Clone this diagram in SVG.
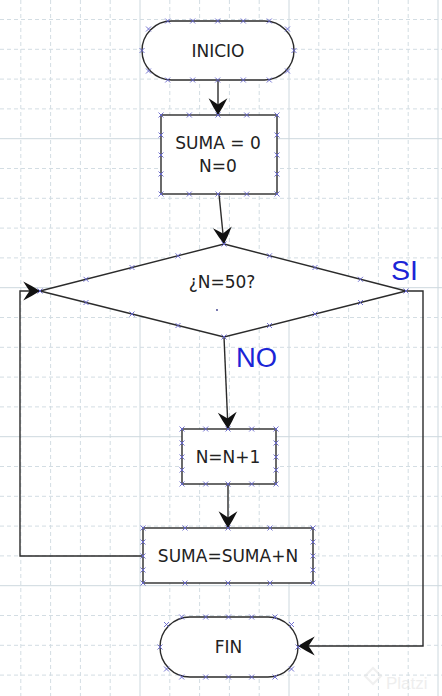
<svg xmlns="http://www.w3.org/2000/svg" width="442" height="696" viewBox="0 0 442 696">
<style>
.gmin{stroke:#d3dde3;stroke-width:1;stroke-dasharray:4 3;fill:none}
.gmaj{stroke:#cdd8de;stroke-width:1;fill:none}
.shape{fill:#ffffff;stroke:#2b2b2b;stroke-width:1.4}
.lbl{font-family:"DejaVu Sans",Tahoma,sans-serif;font-size:17px;fill:#222;text-anchor:middle;dominant-baseline:central}
.conn{stroke:#2b2b2b;stroke-width:1.4;fill:none}
.hand{font-family:"Liberation Sans",Arial,sans-serif;fill:#1b25d6;font-size:27px}
.xm{stroke:#6464cc;stroke-width:0.9;fill:none}
</style>
<defs>
<marker id="ah" markerUnits="userSpaceOnUse" markerWidth="22" markerHeight="22" viewBox="-19 -10 21 20" refX="0" refY="0" orient="auto">
<path d="M0,0 Q-7,-4.5 -16,-9 Q-12.5,-3.5 -10,0 Q-12.5,3.5 -16,9 Q-7,4.5 0,0 Z" fill="#111"/>
</marker>
<path id="x" class="xm" d="M-2.5,-2.5 L2.5,2.5 M-2.5,2.5 L2.5,-2.5"/>
</defs>
<rect width="442" height="696" fill="#ffffff"/>
<g id="grid">
<path class="gmin" d="M20.8,0V696M50.6,0V696M80.4,0V696M110.2,0V696M169.8,0V696M199.6,0V696M229.4,0V696M259.2,0V696M318.8,0V696M348.6,0V696M378.4,0V696M408.2,0V696"/>
<path class="gmaj" d="M140,0V696M289,0V696M438,0V696"/>
<path class="gmin" d="M0,19.5H442M0,49.3H442M0,79.1H442M0,108.9H442M0,168.5H442M0,198.3H442M0,228.1H442M0,257.9H442M0,317.5H442M0,347.3H442M0,377.1H442M0,406.9H442M0,466.5H442M0,496.3H442M0,526.1H442M0,555.9H442M0,615.5H442M0,645.3H442M0,675.1H442"/>
<path class="gmaj" d="M0,138.7H442M0,287.7H442M0,436.7H442M0,585.7H442"/>
</g>
<g id="watermark" opacity="0.5">
<path d="M373,668 L381,676 L373,684 L365,676 Z" fill="none" stroke="#e3e3e3" stroke-width="2"/>
<text x="386" y="689" font-family="'Liberation Sans',Arial,sans-serif" font-size="17" fill="#dedede">Platzi</text>
</g>
<g id="connectors">
<line class="conn" x1="218" y1="80" x2="218" y2="115" marker-end="url(#ah)"/>
<line class="conn" x1="219" y1="194" x2="224" y2="244" marker-end="url(#ah)"/>
<line class="conn" x1="224" y1="337" x2="228" y2="429" marker-end="url(#ah)"/>
<line class="conn" x1="228" y1="484" x2="228" y2="528" marker-end="url(#ah)"/>
<polyline class="conn" points="143,556 20,556 20,291 40,291" marker-end="url(#ah)"/>
<polyline class="conn" points="406,291 423,291 423,646 298,646" marker-end="url(#ah)"/>
<text class="hand" x="391" y="280" textLength="27" lengthAdjust="spacingAndGlyphs">SI</text>
<text class="hand" x="236" y="367" font-size="25" textLength="41" lengthAdjust="spacingAndGlyphs">NO</text>
</g>
<g id="inicio">
<rect class="shape" x="142" y="21" width="152" height="59" rx="29.5"/>
<text class="lbl" x="218" y="50.5">INICIO</text>
<use href="#x" x="167.7" y="21"/><use href="#x" x="192.7" y="21"/><use href="#x" x="217.7" y="21"/><use href="#x" x="243.3" y="21"/><use href="#x" x="269.3" y="21"/>
<use href="#x" x="167.7" y="80"/><use href="#x" x="192.7" y="80"/><use href="#x" x="217.7" y="80"/><use href="#x" x="243.3" y="80"/><use href="#x" x="269.3" y="80"/>
<use href="#x" x="148.5" y="29"/><use href="#x" x="287.5" y="29"/><use href="#x" x="148.5" y="71"/><use href="#x" x="287.5" y="71"/>
<use href="#x" x="142" y="50.5"/><use href="#x" x="294" y="50.5"/>
</g>
<g id="init">
<rect class="shape" x="161" y="115" width="116" height="79"/>
<text class="lbl" x="218" y="143">SUMA = 0</text>
<text class="lbl" x="218" y="166">N=0</text>
<use href="#x" x="161" y="115"/><use href="#x" x="189.3" y="115"/><use href="#x" x="218" y="115"/><use href="#x" x="246.7" y="115"/><use href="#x" x="277" y="115"/>
<use href="#x" x="161" y="194"/><use href="#x" x="189.3" y="194"/><use href="#x" x="218" y="194"/><use href="#x" x="246.7" y="194"/><use href="#x" x="277" y="194"/>
<use href="#x" x="161" y="135"/><use href="#x" x="161" y="155"/><use href="#x" x="161" y="174"/>
<use href="#x" x="277" y="135"/><use href="#x" x="277" y="155"/><use href="#x" x="277" y="174"/>
</g>
<g id="decision">
<polygon class="shape" points="224,244 406,291 224,337 40,291"/>
<text class="lbl" x="222" y="282">¿N=50?</text>
<circle cx="217" cy="310" r="0.9" fill="#3a3a8a"/>
<use href="#x" x="224" y="244"/><use href="#x" x="40" y="291"/><use href="#x" x="406" y="291"/><use href="#x" x="224" y="337"/>
<use href="#x" x="86" y="279.3"/><use href="#x" x="132" y="267.5"/><use href="#x" x="178" y="255.8"/>
<use href="#x" x="269.5" y="255.8"/><use href="#x" x="315" y="267.5"/><use href="#x" x="360.5" y="279.3"/>
<use href="#x" x="86" y="302.5"/><use href="#x" x="132" y="314"/><use href="#x" x="178" y="325.5"/>
<use href="#x" x="269.5" y="325.5"/><use href="#x" x="315" y="314"/><use href="#x" x="360.5" y="302.5"/>
</g>
<g id="increment">
<rect class="shape" x="182" y="429" width="94" height="55"/>
<text class="lbl" x="228" y="457">N=N+1</text>
<use href="#x" x="182" y="429"/><use href="#x" x="205.7" y="429"/><use href="#x" x="228" y="429"/><use href="#x" x="251.7" y="429"/><use href="#x" x="276" y="429"/>
<use href="#x" x="182" y="484"/><use href="#x" x="205.7" y="484"/><use href="#x" x="228" y="484"/><use href="#x" x="251.7" y="484"/><use href="#x" x="276" y="484"/>
<use href="#x" x="182" y="443"/><use href="#x" x="182" y="457"/><use href="#x" x="182" y="470"/>
<use href="#x" x="276" y="443"/><use href="#x" x="276" y="457"/><use href="#x" x="276" y="470"/>
</g>
<g id="sum">
<rect class="shape" x="143" y="528" width="170" height="55"/>
<text class="lbl" x="228" y="556">SUMA=SUMA+N</text>
<use href="#x" x="143" y="528"/><use href="#x" x="185" y="528"/><use href="#x" x="228" y="528"/><use href="#x" x="270" y="528"/><use href="#x" x="313" y="528"/>
<use href="#x" x="143" y="583"/><use href="#x" x="185" y="583"/><use href="#x" x="228" y="583"/><use href="#x" x="270" y="583"/><use href="#x" x="313" y="583"/>
<use href="#x" x="143" y="542"/><use href="#x" x="143" y="556"/><use href="#x" x="143" y="570"/>
<use href="#x" x="313" y="542"/><use href="#x" x="313" y="556"/><use href="#x" x="313" y="570"/>
</g>
<g id="fin">
<rect class="shape" x="160" y="617" width="138" height="60" rx="30"/>
<text class="lbl" x="228.5" y="647">FIN</text>
<use href="#x" x="181.7" y="617"/><use href="#x" x="205.7" y="617"/><use href="#x" x="228.5" y="617"/><use href="#x" x="251.7" y="617"/><use href="#x" x="275" y="617"/>
<use href="#x" x="181.7" y="677"/><use href="#x" x="205.7" y="677"/><use href="#x" x="228.5" y="677"/><use href="#x" x="251.7" y="677"/><use href="#x" x="275" y="677"/>
<use href="#x" x="166.5" y="624.5"/><use href="#x" x="291.5" y="624.5"/><use href="#x" x="166.5" y="669"/><use href="#x" x="291.5" y="669"/>
<use href="#x" x="160" y="647"/><use href="#x" x="298" y="647"/>
</g>
</svg>
